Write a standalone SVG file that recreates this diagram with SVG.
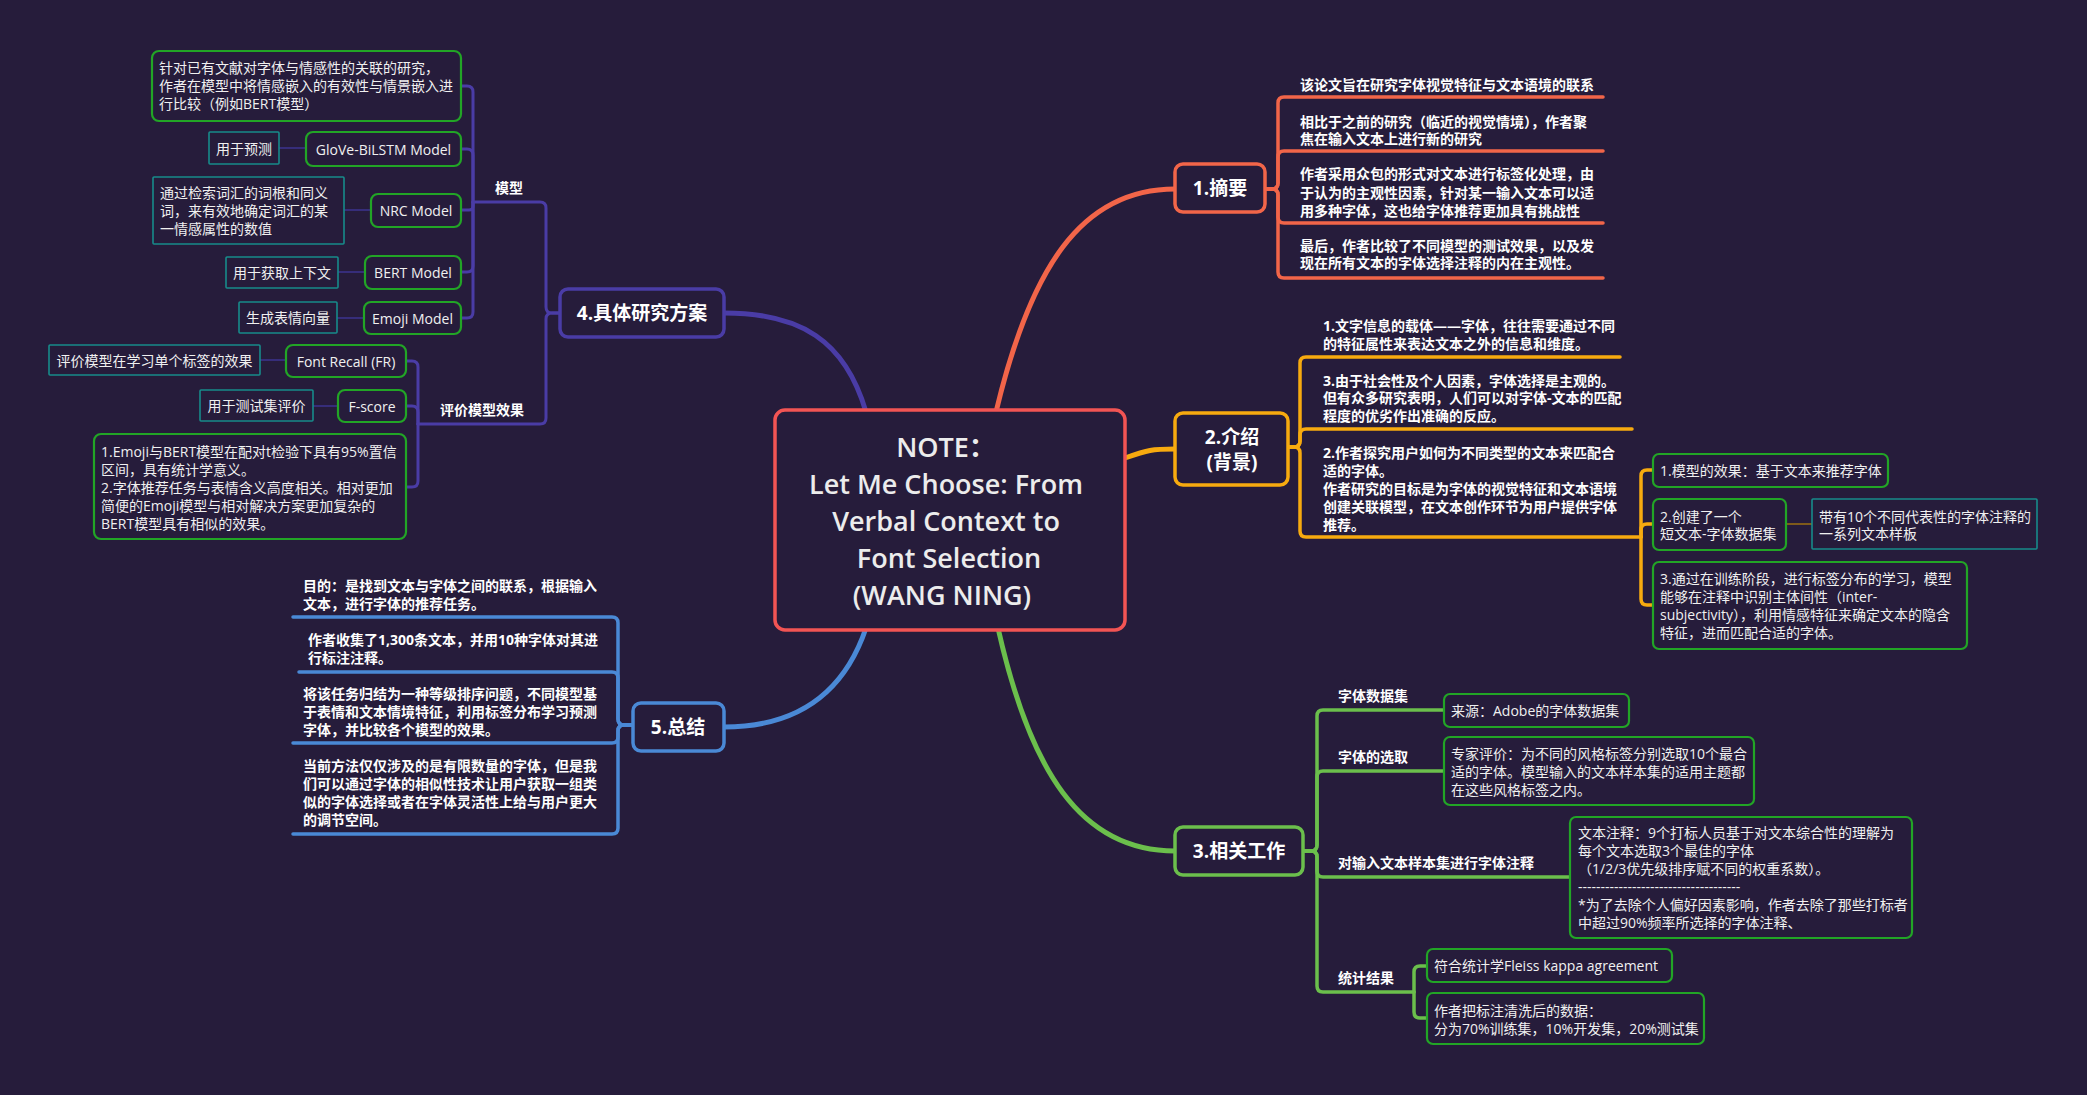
<svg xmlns="http://www.w3.org/2000/svg" width="2087" height="1095" viewBox="0 0 2087 1095">
<style>
.t{font-family:"Open Sans","Noto Sans CJK SC",sans-serif;font-size:14px;fill:#f0f0f0;dominant-baseline:central}
.b{font-weight:bold;fill:#ffffff}
.m{text-anchor:middle}
.tp{font-size:19px;font-weight:bold;fill:#ffffff;text-anchor:middle}
.ti{font-size:27px;font-weight:600;fill:#ececec;text-anchor:middle}
.g{fill:#261c3b;stroke:#22a526;stroke-width:2.2}
.q{fill:#261c3b;stroke:#178b8b;stroke-width:1.6}
.c{fill:none;stroke-linecap:round;stroke-linejoin:round}
.pu{stroke:#4a3ca6;stroke-width:3}
.co{stroke:#f26549;stroke-width:3.5}
.or{stroke:#f7aa0f;stroke-width:3.5}
.gr{stroke:#6bbf4c;stroke-width:3.5}
.bl{stroke:#4a89d6;stroke-width:3.5}
.main{stroke-width:5}
</style>
<rect width="2087" height="1095" fill="#261c3b"/>
<g id="connectors">
<path class="c co main" d="M996 412 C1030 270 1080 189 1175 189"/>
<path class="c or main" d="M1125 458 C1148 450 1152 449 1175 449"/>
<path class="c gr main" d="M998 628 C1030 770 1080 851 1175 851"/>
<path class="c pu main" d="M866 412 C845 340 800 313 724 313"/>
<path class="c bl main" d="M866 628 C845 690 800 727 724 727"/>
<path class="c pu" d="M560 313 H552 Q546 313 546 307 V208 Q546 202 540 202 H473"/>
<path class="c pu" d="M560 313 H552 Q546 313 546 319 V418 Q546 424 540 424 H418"/>
<path class="c pu" d="M473 202 V92 Q473 86 467 86 H461"/>
<path class="c pu" d="M473 202 V155 Q473 149 467 149 H461"/>
<path class="c pu" d="M473 202 V206 Q473 210 469 210 H461"/>
<path class="c pu" d="M473 202 V266 Q473 272 467 272 H461"/>
<path class="c pu" d="M473 202 V312 Q473 318 467 318 H461"/>
<path class="c pu" d="M418 424 V367 Q418 361 412 361 H406"/>
<path class="c pu" d="M418 424 V412 Q418 406 412 406 H406"/>
<path class="c pu" d="M418 424 V481 Q418 487 412 487 H406"/>
<g stroke="#3d3390" stroke-width="1.5">
<path d="M279 148 H306"/><path d="M344 210 H371"/><path d="M338 272 H365"/><path d="M337 318 H364"/><path d="M260 360 H286"/><path d="M313 406 H338"/>
</g>
<path class="c co" d="M1265 189 H1272 Q1278 189 1278 183 V103 Q1278 97 1284 97 H1603"/>
<path class="c co" d="M1265 189 H1272 Q1278 189 1278 183 V157 Q1278 151 1284 151 H1603"/>
<path class="c co" d="M1265 189 H1272 Q1278 189 1278 195 V217 Q1278 223 1284 223 H1603"/>
<path class="c co" d="M1265 189 H1272 Q1278 189 1278 195 V272 Q1278 278 1284 278 H1603"/>
<path class="c or" d="M1288 447 H1294 Q1300 447 1300 441 V363 Q1300 357 1306 357 H1620"/>
<path class="c or" d="M1288 447 H1294 Q1300 447 1300 441 V435 Q1300 429 1306 429 H1632"/>
<path class="c or" d="M1288 447 H1294 Q1300 447 1300 453 V531 Q1300 537 1306 537 H1641"/>
<path class="c or" d="M1641 537 V476 Q1641 470 1647 470 H1653"/>
<path class="c or" d="M1641 537 V530 Q1641 524 1647 524 H1653"/>
<path class="c or" d="M1641 537 V599 Q1641 605 1647 605 H1653"/>
<path d="M1786 524 H1812" stroke="#9c6f12" stroke-width="1.5"/>
<path class="c gr" d="M1303 851 H1311 Q1317 851 1317 845 V716 Q1317 710 1323 710 H1444"/>
<path class="c gr" d="M1303 851 H1311 Q1317 851 1317 845 V777 Q1317 771 1323 771 H1444"/>
<path class="c gr" d="M1303 851 H1311 Q1317 851 1317 857 V871 Q1317 877 1323 877 H1570"/>
<path class="c gr" d="M1303 851 H1311 Q1317 851 1317 857 V986 Q1317 992 1323 992 H1414"/>
<path class="c gr" d="M1414 992 V972 Q1414 966 1420 966 H1427"/>
<path class="c gr" d="M1414 992 V1012 Q1414 1018 1420 1018 H1427"/>
<path class="c bl" d="M632 725 H624 Q618 725 618 719 V623 Q618 617 612 617 H293"/>
<path class="c bl" d="M632 725 H624 Q618 725 618 719 V678 Q618 672 612 672 H299"/>
<path class="c bl" d="M632 725 H624 Q618 725 618 731 V737 Q618 743 612 743 H293"/>
<path class="c bl" d="M632 725 H624 Q618 725 618 731 V828 Q618 834 612 834 H293"/>
</g>
<g id="center">
<rect x="775" y="410" width="350" height="220" rx="10" fill="#261c3b" stroke="#f25454" stroke-width="3.5"/>
<text class="t ti" x="946" y="446">NOTE：</text>
<text class="t ti" x="946" y="483">Let Me Choose: From</text>
<text class="t ti" x="946" y="520">Verbal Context to</text>
<text class="t ti" x="949" y="557">Font Selection</text>
<text class="t ti" x="942" y="594">(WANG NING)</text>
</g>
<g id="n1">
<rect x="1175" y="164" width="90" height="48" rx="8" fill="#261c3b" stroke="#f26549" stroke-width="3.5"/>
<text class="t tp" x="1220" y="188">1.摘要</text>
</g>
<g id="n1-items">
<text class="t b" x="1300" y="84">该论文旨在研究字体视觉特征与文本语境的联系</text>
<text class="t b" x="1300" y="121">相比于之前的研究（临近的视觉情境），作者聚</text>
<text class="t b" x="1300" y="138">焦在输入文本上进行新的研究</text>
<text class="t b" x="1300" y="173">作者采用众包的形式对文本进行标签化处理，由</text>
<text class="t b" x="1300" y="192">于认为的主观性因素，针对某一输入文本可以适</text>
<text class="t b" x="1300" y="210">用多种字体，这也给字体推荐更加具有挑战性</text>
<text class="t b" x="1300" y="245">最后，作者比较了不同模型的测试效果，以及发</text>
<text class="t b" x="1300" y="262">现在所有文本的字体选择注释的内在主观性。</text>
</g>
<g id="n2">
<rect x="1175" y="413" width="113" height="72" rx="8" fill="#261c3b" stroke="#f7aa0f" stroke-width="3.5"/>
<text class="t tp" x="1232" y="437">2.介绍</text>
<text class="t tp" x="1232" y="462">(背景)</text>
</g>
<g id="n2-items">
<text class="t b" x="1323" y="325">1.文字信息的载体——字体，往往需要通过不同</text>
<text class="t b" x="1323" y="343">的特征属性来表达文本之外的信息和维度。</text>
<text class="t b" x="1323" y="380">3.由于社会性及个人因素，字体选择是主观的。</text>
<text class="t b" x="1323" y="397">但有众多研究表明，人们可以对字体-文本的匹配</text>
<text class="t b" x="1323" y="415">程度的优劣作出准确的反应。</text>
<text class="t b" x="1323" y="452">2.作者探究用户如何为不同类型的文本来匹配合</text>
<text class="t b" x="1323" y="470">适的字体。</text>
<text class="t b" x="1323" y="488">作者研究的目标是为字体的视觉特征和文本语境</text>
<text class="t b" x="1323" y="506">创建关联模型，在文本创作环节为用户提供字体</text>
<text class="t b" x="1323" y="524">推荐。</text>
</g>
<g id="n2-1">
<rect class="g" x="1653" y="454" width="235" height="33" rx="6"/>
<text class="t" x="1660" y="470">1.模型的效果：基于文本来推荐字体</text>
</g>
<g id="n2-2">
<rect class="g" x="1653" y="499" width="133" height="51" rx="6"/>
<text class="t" x="1660" y="516">2.创建了一个</text>
<text class="t" x="1660" y="533">短文本-字体数据集</text>
</g>
<g id="n2-2a">
<rect class="q" x="1812" y="499" width="225" height="50" rx="1"/>
<text class="t" x="1819" y="516">带有10个不同代表性的字体注释的</text>
<text class="t" x="1819" y="533">一系列文本样板</text>
</g>
<g id="n2-3">
<rect class="g" x="1653" y="562" width="314" height="87" rx="6"/>
<text class="t" x="1660" y="578">3.通过在训练阶段，进行标签分布的学习，模型</text>
<text class="t" x="1660" y="596">能够在注释中识别主体间性（inter-</text>
<text class="t" x="1660" y="614">subjectivity），利用情感特征来确定文本的隐含</text>
<text class="t" x="1660" y="632">特征，进而匹配合适的字体。</text>
</g>
<g id="n3">
<rect x="1175" y="827" width="128" height="48" rx="8" fill="#261c3b" stroke="#6bbf4c" stroke-width="3.5"/>
<text class="t tp" x="1239" y="851">3.相关工作</text>
</g>
<g id="n3-labels">
<text class="t b" x="1338" y="695">字体数据集</text>
<text class="t b" x="1338" y="756">字体的选取</text>
<text class="t b" x="1338" y="862">对输入文本样本集进行字体注释</text>
<text class="t b" x="1338" y="977">统计结果</text>
</g>
<g id="n3-1">
<rect class="g" x="1444" y="694" width="185" height="33" rx="6"/>
<text class="t" x="1451" y="710">来源：Adobe的字体数据集</text>
</g>
<g id="n3-2">
<rect class="g" x="1444" y="737" width="310" height="68" rx="6"/>
<text class="t" x="1451" y="753">专家评价：为不同的风格标签分别选取10个最合</text>
<text class="t" x="1451" y="771">适的字体。模型输入的文本样本集的适用主题都</text>
<text class="t" x="1451" y="789">在这些风格标签之内。</text>
</g>
<g id="n3-3">
<rect class="g" x="1570" y="817" width="342" height="121" rx="6"/>
<text class="t" x="1578" y="832">文本注释：9个打标人员基于对文本综合性的理解为</text>
<text class="t" x="1578" y="850">每个文本选取3个最佳的字体</text>
<text class="t" x="1578" y="868">（1/2/3优先级排序赋不同的权重系数）。</text>
<text class="t" x="1578" y="886">------------------------------------</text>
<text class="t" x="1578" y="904">*为了去除个人偏好因素影响，作者去除了那些打标者</text>
<text class="t" x="1578" y="922">中超过90%频率所选择的字体注释、</text>
</g>
<g id="n3-4a">
<rect class="g" x="1427" y="949" width="245" height="33" rx="6"/>
<text class="t" x="1434" y="965">符合统计学Fleiss kappa agreement</text>
</g>
<g id="n3-4b">
<rect class="g" x="1427" y="993" width="277" height="51" rx="6"/>
<text class="t" x="1434" y="1010">作者把标注清洗后的数据：</text>
<text class="t" x="1434" y="1028">分为70%训练集，10%开发集，20%测试集</text>
</g>
<g id="n4">
<rect x="560" y="289" width="164" height="48" rx="8" fill="#261c3b" stroke="#4a3ca6" stroke-width="3.5"/>
<text class="t tp" x="642" y="313">4.具体研究方案</text>
</g>
<g id="n4-labels">
<text class="t b m" x="509" y="187">模型</text>
<text class="t b m" x="482" y="409">评价模型效果</text>
</g>
<g id="m0">
<rect class="g" x="152" y="51" width="309" height="70" rx="7"/>
<text class="t" x="159" y="67">针对已有文献对字体与情感性的关联的研究，</text>
<text class="t" x="159" y="85">作者在模型中将情感嵌入的有效性与情景嵌入进</text>
<text class="t" x="159" y="103">行比较（例如BERT模型）</text>
</g>
<g id="m1">
<rect class="g" x="306" y="132" width="155" height="34" rx="7"/>
<text class="t m" x="383.5" y="149">GloVe-BiLSTM Model</text>
</g>
<g id="m1a">
<rect class="q" x="209" y="132" width="70" height="32" rx="1"/>
<text class="t m" x="244" y="148">用于预测</text>
</g>
<g id="m2">
<rect class="g" x="371" y="194" width="90" height="33" rx="7"/>
<text class="t m" x="416" y="210.5">NRC Model</text>
</g>
<g id="m2a">
<rect class="q" x="153" y="177" width="191" height="67" rx="1"/>
<text class="t" x="160" y="192">通过检索词汇的词根和同义</text>
<text class="t" x="160" y="210">词，来有效地确定词汇的某</text>
<text class="t" x="160" y="228">一情感属性的数值</text>
</g>
<g id="m3">
<rect class="g" x="365" y="256" width="96" height="33" rx="7"/>
<text class="t m" x="413" y="272.5">BERT Model</text>
</g>
<g id="m3a">
<rect class="q" x="226" y="257" width="112" height="31" rx="1"/>
<text class="t m" x="282" y="272.5">用于获取上下文</text>
</g>
<g id="m4">
<rect class="g" x="364" y="302" width="97" height="32" rx="7"/>
<text class="t m" x="412.5" y="318">Emoji Model</text>
</g>
<g id="m4a">
<rect class="q" x="239" y="302" width="98" height="31" rx="1"/>
<text class="t m" x="288" y="317.5">生成表情向量</text>
</g>
<g id="e1">
<rect class="g" x="286" y="345" width="120" height="32" rx="7"/>
<text class="t m" x="346" y="361">Font Recall (FR)</text>
</g>
<g id="e1a">
<rect class="q" x="49" y="345" width="211" height="30" rx="1"/>
<text class="t m" x="154.5" y="360">评价模型在学习单个标签的效果</text>
</g>
<g id="e2">
<rect class="g" x="338" y="390" width="68" height="32" rx="7"/>
<text class="t m" x="372" y="406">F-score</text>
</g>
<g id="e2a">
<rect class="q" x="200" y="390" width="113" height="31" rx="1"/>
<text class="t m" x="256.5" y="405.5">用于测试集评价</text>
</g>
<g id="e3">
<rect class="g" x="94" y="434" width="312" height="105" rx="7"/>
<text class="t" x="101" y="451">1.Emoji与BERT模型在配对t检验下具有95%置信</text>
<text class="t" x="101" y="469">区间，具有统计学意义。</text>
<text class="t" x="101" y="487">2.字体推荐任务与表情含义高度相关。相对更加</text>
<text class="t" x="101" y="505">简便的Emoji模型与相对解决方案更加复杂的</text>
<text class="t" x="101" y="523">BERT模型具有相似的效果。</text>
</g>
<g id="n5">
<rect x="633" y="703" width="91" height="48" rx="8" fill="#261c3b" stroke="#4a89d6" stroke-width="3.5"/>
<text class="t tp" x="678" y="727">5.总结</text>
</g>
<g id="n5-items">
<text class="t b" x="303" y="585">目的：是找到文本与字体之间的联系，根据输入</text>
<text class="t b" x="303" y="603">文本，进行字体的推荐任务。</text>
<text class="t b" x="308" y="639">作者收集了1,300条文本，并用10种字体对其进</text>
<text class="t b" x="308" y="657">行标注注释。</text>
<text class="t b" x="303" y="693">将该任务归结为一种等级排序问题，不同模型基</text>
<text class="t b" x="303" y="711">于表情和文本情境特征，利用标签分布学习预测</text>
<text class="t b" x="303" y="729">字体，并比较各个模型的效果。</text>
<text class="t b" x="303" y="765">当前方法仅仅涉及的是有限数量的字体，但是我</text>
<text class="t b" x="303" y="783">们可以通过字体的相似性技术让用户获取一组类</text>
<text class="t b" x="303" y="801">似的字体选择或者在字体灵活性上给与用户更大</text>
<text class="t b" x="303" y="819">的调节空间。</text>
</g>
</svg>
